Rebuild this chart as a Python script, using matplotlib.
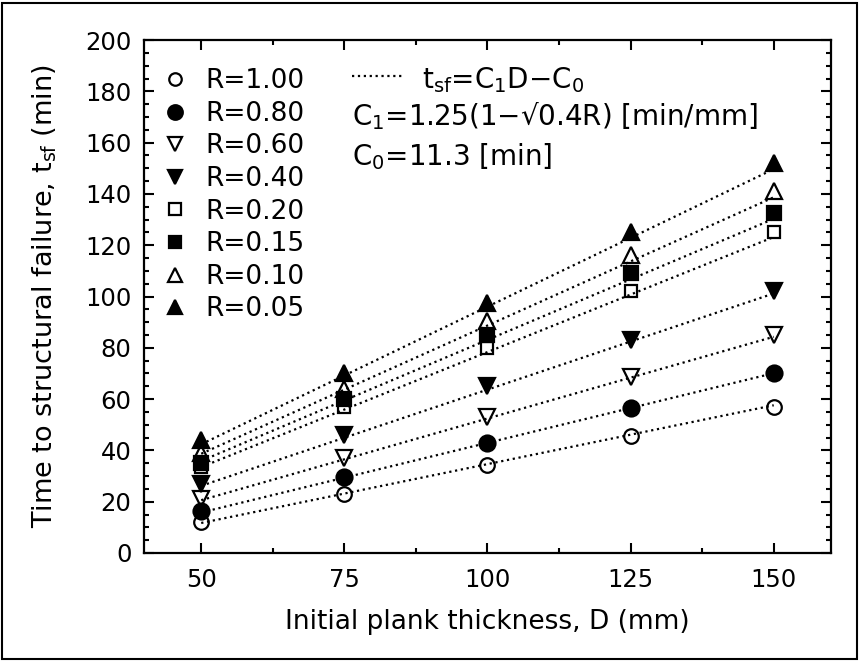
import numpy as np
import matplotlib
matplotlib.use('Agg')
import matplotlib.pyplot as plt
from matplotlib.lines import Line2D
from matplotlib.patches import Rectangle

# Dados
espessura = [50, 75, 100, 125, 150]
r_labels = ['R=1.00', 'R=0.80', 'R=0.60', 'R=0.40', 'R=0.20', 'R=0.15', 'R=0.10', 'R=0.05']
t_r100 = [12, 23, 34.5, 45.5, 57]
t_r080 = [16.5, 29.5, 43, 56.5, 70]
t_r060 = [21, 37, 53, 68.5, 85]
t_r040 = [27, 46, 65, 83, 102]
t_r020 = [33.5, 57, 80, 102, 125]
t_r015 = [35, 60, 85, 109, 132.5]
t_r010 = [39, 64, 90.5, 116, 141]
t_r005 = [44, 70, 97.5, 125, 152]

# Retas ajustadas (valores em D=50 e D=150)
reta_D = [50, 150]
reta_inicio = [11.7, 15.8, 20.6, 26.2, 33.5, 35.9, 38.7, 42.4]
reta_fim = [57.6, 70.1, 84.3, 101.2, 123.2, 130.3, 138.7, 149.7]

series = [t_r100, t_r080, t_r060, t_r040, t_r020, t_r015, t_r010, t_r005]
marcadores = ['o', 'o', 'v', 'v', 's', 's', '^', '^']
cheio = [False, True, False, True, False, True, False, True]
tamanhos = [10.5, 11.5, 11, 11.5, 9, 9.5, 11, 11.5]
tam_legenda = [9, 10.5, 9.5, 10.5, 8, 8.5, 9.5, 10.5]

plt.rcParams['font.family'] = ['DejaVu Sans']
plt.rcParams['mathtext.default'] = 'regular'

fig = plt.figure(figsize=(8.59, 6.61), dpi=100)
ax = fig.add_axes([0.1676, 0.1634, 0.7998, 0.776])

for i in range(len(series)):
    ax.plot(reta_D, [reta_inicio[i], reta_fim[i]], color='black', linestyle=':', lw=1.6, zorder=1)

handles = []
for i, ys in enumerate(series):
    fs = 'full' if cheio[i] else 'none'
    ax.plot(espessura, ys, linestyle='none', marker=marcadores[i], markersize=tamanhos[i],
            color='black', fillstyle=fs, markeredgewidth=1.6, zorder=3)
    handles.append(Line2D([], [], linestyle='none', marker=marcadores[i], markersize=tam_legenda[i],
                          color='black', fillstyle=fs, markeredgewidth=1.6))

leg1 = ax.legend(handles, r_labels, loc='upper left', frameon=False, fontsize=19,
                 handlelength=0.8, handletextpad=0.74, labelspacing=0.25,
                 borderpad=0.0, borderaxespad=0.0, bbox_to_anchor=(0.0297, 0.945))
ax.add_artist(leg1)

# Linha de ajuste e equações
linha = Line2D([], [], color='black', linestyle=':', lw=1.6)
ax.legend([linha], [''], loc='center left', frameon=False, fontsize=20,
          handlelength=1.83, handletextpad=0.0, borderpad=0.0, borderaxespad=0.0,
          bbox_to_anchor=(0.3028, 0.926))
ax.text(0.4047, 0.9064, '$t_{sf}$=C$_1$D−C$_0$', transform=ax.transAxes,
        fontsize=20, va='baseline', ha='left')
ax.text(0.3028, 0.8343, 'C$_1$=1.25(1−√0.4R) [min/mm]', transform=ax.transAxes,
        fontsize=20, va='baseline', ha='left')
ax.text(0.3028, 0.7563, 'C$_0$=11.3 [min]', transform=ax.transAxes,
        fontsize=20, va='baseline', ha='left')

ax.set_xlim(40, 160)
ax.set_ylim(0, 200)
ax.set_xticks(espessura)
ax.set_xticks([62.5, 87.5, 112.5, 137.5], minor=True)
ax.set_yticks(np.arange(0, 201, 20))
ax.set_yticks(np.arange(0, 201, 5), minor=True)
ax.tick_params(which='both', direction='in', top=True, right=True, width=1.5, labelsize=17.5)
ax.tick_params(which='major', length=7)
ax.tick_params(which='minor', length=3.5)
ax.tick_params(axis='x', which='major', pad=11)
ax.tick_params(axis='y', which='major', pad=9)
for s in ax.spines.values():
    s.set_linewidth(1.6)

ax.set_xlabel('Initial plank thickness, D (mm)', fontsize=19, labelpad=12)
ax.set_ylabel('Time to structural failure, $t_{sf}$ (min)', fontsize=19.5, labelpad=19)

# Moldura externa
fig.patches.append(Rectangle((0.0023, 0.003), 0.9954, 0.9925, transform=fig.transFigure,
                             fill=False, edgecolor='black', lw=1.5))

fig.savefig('out.png', dpi=100)
